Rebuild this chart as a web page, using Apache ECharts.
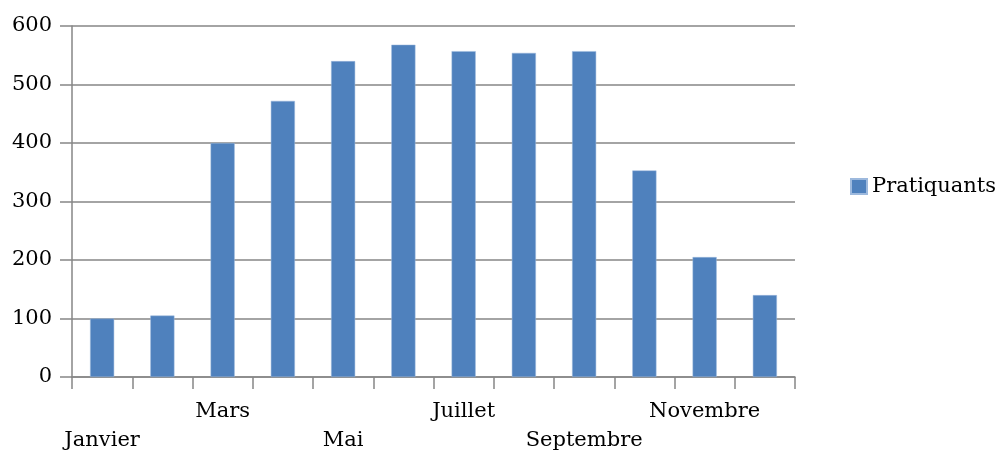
<!DOCTYPE html>
<html><head><meta charset="utf-8">
<script src="https://cdn.jsdelivr.net/npm/echarts@6/dist/echarts.min.js"></script>
<style>html,body{margin:0;padding:0;background:#fff}#c{width:995px;height:455px}</style>
</head><body><div id="c"></div>
<script>
const categories = ['Janvier','Février','Mars','Avril','Mai','Juin','Juillet','Août','Septembre','Octobre','Novembre','Décembre'];
const seriesName = 'Pratiquants';
const values = [100, 105, 400, 472, 540, 568, 557, 554, 557, 353, 205, 140];
const yTicks = [0, 100, 200, 300, 400, 500, 600];

const FONT = 'DejaVu Serif';
const chart = echarts.init(document.getElementById('c'));
chart.setOption({
  animation: false,
  textStyle: { fontFamily: FONT },
  grid: { left: 72, right: 200, top: 26, bottom: 73, containLabel: false },
  legend: {
    data: [seriesName], left: 845, top: 171, orient: 'vertical',
    icon: 'rect', itemWidth: 16, itemHeight: 15, itemGap: 5,
    textStyle: { fontFamily: FONT, fontSize: 21, color: '#000' }
  },
  xAxis: {
    type: 'category', data: categories,
    axisLine: { lineStyle: { color: '#868686', width: 1.5 } },
    axisTick: { show: true, length: 12, lineStyle: { color: '#868686', width: 1.5 } },
    axisLabel: {
      interval: 0, margin: 20, color: '#000', fontFamily: FONT, fontSize: 21, lineHeight: 29,
      formatter: function (v, i) {
        if (i % 2 === 1) return '';
        return (i % 4 === 0) ? '\n' + v : v;
      }
    }
  },
  yAxis: {
    type: 'value', min: yTicks[0], max: yTicks[yTicks.length - 1], interval: 100,
    axisLine: { show: true, lineStyle: { color: '#868686', width: 1.5 } },
    axisTick: { show: true, length: 12, lineStyle: { color: '#868686', width: 1.5 } },
    axisLabel: { margin: 20, color: '#000', fontFamily: FONT, fontSize: 21 },
    splitLine: { lineStyle: { color: '#868686', width: 1.5 } }
  },
  series: [{
    name: seriesName, type: 'bar', data: values, barWidth: '40%',
    itemStyle: { color: '#4F81BD', borderColor: '#9DB9DD', borderWidth: 0.5 }
  }]
});
</script></body></html>
